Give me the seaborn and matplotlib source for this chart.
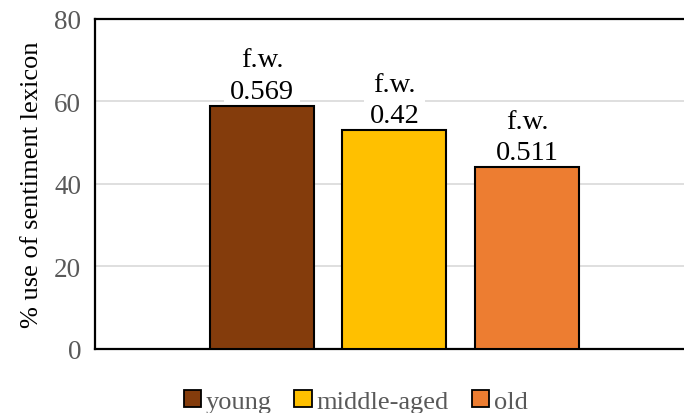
import matplotlib
matplotlib.use("Agg")
import matplotlib.pyplot as plt
import seaborn as sns
import pandas as pd
from matplotlib.patches import Patch

# Data
age_groups = ["young", "middle-aged", "old"]
pct_sentiment_use = [59, 53, 44]
fw_scores = ["0.569", "0.42", "0.511"]
bar_colors = ["#843C0C", "#FFC000", "#ED7D31"]
y_ticks = [0, 20, 40, 60, 80]

sns.set_theme(style="white")
plt.rcParams["font.family"] = ["Liberation Serif", "DejaVu Serif"]

df = pd.DataFrame({"group": age_groups, "pct": pct_sentiment_use})

fig = plt.figure(figsize=(6.84, 4.14), dpi=100)
ax = fig.add_axes([0.1389, 0.1546, 0.8611, 0.7971])

ax.set_axisbelow(True)
ax.yaxis.grid(True, color="#D9D9D9", linewidth=1.2)
ax.xaxis.grid(False)

sns.barplot(data=df, x="group", y="pct", hue="group", palette=bar_colors,
            saturation=1, width=0.785, edgecolor="black", linewidth=1.5,
            legend=False, ax=ax, zorder=3)

ax.set_ylim(0, 80)
ax.set_yticks(y_ticks)
ax.set_xlim(-1.26, 3.185)
ax.set_xticks([])
ax.set_xlabel("")
ax.set_ylabel("% use of sentiment lexicon", fontsize=19, color="black", labelpad=8)

ax.tick_params(axis="y", direction="in", length=7, width=1, color="#A6A6A6",
               labelsize=19.5, labelcolor="#595959", pad=10)

for side in ["left", "top", "bottom"]:
    ax.spines[side].set_visible(True)
    ax.spines[side].set_color("black")
    ax.spines[side].set_linewidth(1.6)
ax.spines["right"].set_visible(False)

# f.w. annotations above each bar; white box hides gridlines but sits under the bars
for i, (val, fw) in enumerate(zip(pct_sentiment_use, fw_scores)):
    ax.annotate(f"f.w.\n{fw}", xy=(i, val), xytext=(0, 1.5),
                textcoords="offset points", ha="center", va="bottom",
                fontsize=20.5, color="black", linespacing=1.35, zorder=2.5,
                bbox=dict(boxstyle="square,pad=0.2", fc="white", ec="none"))

handles = [Patch(facecolor=c, edgecolor="black", linewidth=1.3, label=g)
           for c, g in zip(bar_colors, age_groups)]
leg = fig.legend(handles=handles, loc="center", bbox_to_anchor=(0.52, 0.028),
                 ncol=3, frameon=False, fontsize=19, handlelength=0.65,
                 handleheight=0.65, handletextpad=0.2, columnspacing=0.85)
for t in leg.get_texts():
    t.set_color("#595959")

fig.savefig("out.png", dpi=100)
